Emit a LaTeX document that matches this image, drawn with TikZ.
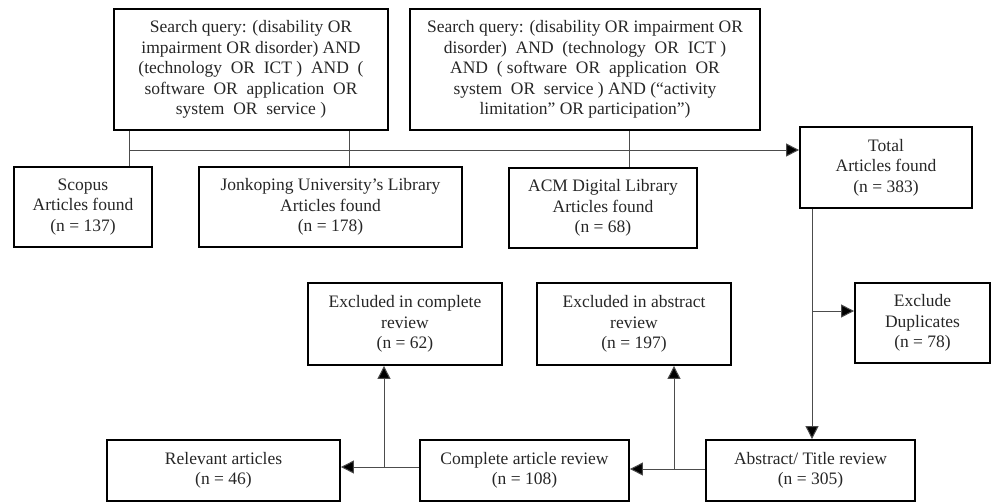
\documentclass[tikz,border=0pt]{standalone}
\usepackage{fontspec}
\setmainfont{Liberation Serif}
\usetikzlibrary{arrows.meta}
\begin{document}
\begin{tikzpicture}[x=1pt,y=-1pt,
  box/.style={draw=black,line width=1.8pt,rectangle,align=center,inner sep=0pt,
    font=\fontsize{17.5}{20.5}\selectfont,text=black!85},
  conn/.style={line width=1pt,draw=black!70},
  arr/.style={conn,-{Triangle[length=13pt,width=13pt,fill=black]}}]
\useasboundingbox (0,0) rectangle (992,503);

% search queries
\node[box,minimum width=274pt,minimum height=121pt] (Q1) at (251,69.5)
  {Search query: (disability OR\\impairment OR disorder) AND\\(technology\ \ OR\ \ ICT )\ \ AND\ \ (\\software\ \ OR\ \ application\ \ OR\\system\ \ OR\ \ service )};
\node[box,minimum width=350pt,minimum height=121pt] (Q2) at (585,69.5)
  {Search query: (disability OR impairment OR\\disorder)\ \ AND\ \ (technology\ \ OR\ \ ICT )\\AND\ \ ( software\ \ OR\ \ application\ \ OR\\system\ \ OR\ \ service ) AND (“activity\\limitation” OR participation”)};

% databases
\node[box,minimum width=138pt,minimum height=80pt] (Scopus) at (83,207)
  {Scopus\\Articles found\\(n = 137)};
\node[box,minimum width=263pt,minimum height=80pt] (Jonk) at (330.5,207)
  {Jonkoping University’s Library\\Articles found\\(n = 178)};
\node[box,minimum width=188pt,minimum height=80pt] (ACM) at (603,208)
  {ACM Digital Library\\Articles found\\(n = 68)};
\node[box,minimum width=172pt,minimum height=81pt] (Total) at (886,167.5)
  {Total\\Articles found\\(n = 383)};

% screening
\node[box,minimum width=135pt,minimum height=80pt] (Dup) at (922.5,323)
  {Exclude\\Duplicates\\(n = 78)};
\node[box,minimum width=209pt,minimum height=61pt] (Abs) at (810.5,470.5)
  {Abstract/ Title review\\(n = 305)};
\node[box,minimum width=209pt,minimum height=61pt] (Comp) at (524.5,470.5)
  {Complete article review\\(n = 108)};
\node[box,minimum width=233pt,minimum height=61pt] (Rel) at (223.5,470.5)
  {Relevant articles\\(n = 46)};
\node[box,minimum width=194pt,minimum height=82pt] (ExC) at (405,324)
  {Excluded in complete\\review\\(n = 62)};
\node[box,minimum width=194pt,minimum height=82pt] (ExA) at (634,324)
  {Excluded in abstract\\review\\(n = 197)};

% junction points
\coordinate (dS) at (129,150);
\coordinate (dJ) at (349,150);
\coordinate (dA) at (629,150);
\coordinate (tD) at (812,311);
\coordinate (bA) at (674,469);
\coordinate (bC) at (384,467);

% connectors
\draw[conn] (dS |- Q1.south) -- (dS |- Scopus.north);
\draw[conn] (dJ |- Q1.south) -- (dJ |- Jonk.north);
\draw[conn] (dA |- Q2.south) -- (dA |- ACM.north);
\draw[arr] (dS) -- (dS -| Total.west);
\draw[arr] (tD |- Total.south) -- (tD |- Abs.north);
\draw[arr] (tD) -- (tD -| Dup.west);
\draw[arr] (bA -| Abs.west) -- (bA -| Comp.east);
\draw[arr] (bA) -- (bA |- ExA.south);
\draw[arr] (bC -| Comp.west) -- (bC -| Rel.east);
\draw[arr] (bC) -- (bC |- ExC.south);
\end{tikzpicture}
\end{document}
